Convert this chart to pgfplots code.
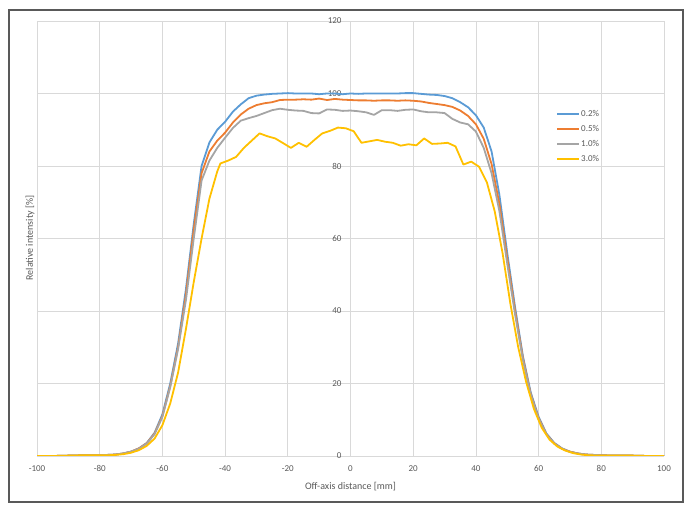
\documentclass[border=0pt]{standalone}
\usepackage{pgfplots}
\pgfplotsset{compat=1.18}
\usepackage{fontspec}
\setmainfont{Carlito}
\definecolor{cblue}{HTML}{5B9BD5}
\definecolor{corange}{HTML}{ED7D31}
\definecolor{cgray}{HTML}{A5A5A5}
\definecolor{cyellow}{HTML}{FFC000}
\definecolor{txt}{HTML}{595959}
\definecolor{gridc}{HTML}{D9D9D9}
\definecolor{framec}{HTML}{595959}
\begin{document}
\begin{tikzpicture}[x=1pt,y=1pt]
\path[use as bounding box] (0,0) rectangle (693,513);
\draw[framec, line width=1.6pt] (9,11) rectangle (683,503);
\begin{axis}[
  at={(37pt,57pt)}, anchor=south west,
  scale only axis, width=627pt, height=435pt,
  xmin=-100, xmax=100, ymin=0, ymax=120,
  xtick={-100,-80,...,100}, ytick={0,20,...,120},
  grid=major, major grid style={draw=gridc, line width=0.8pt},
  major tick length=0pt,
  axis line style={draw=none},
  tick label style={font=\fontsize{9}{10}\selectfont, text=txt},
  /pgf/number format/assume math mode=true,
  yticklabel style={xshift=308pt},
  xticklabel style={yshift=-6pt},
  xlabel={Off-axis distance [mm]},
  xlabel style={font=\fontsize{10}{12}\selectfont, text=txt, yshift=-4pt},
  legend style={draw=none, fill=none, at={(0.823,0.802)}, anchor=north west,
    font=\fontsize{9}{10}\selectfont, row sep=5.3pt,
    nodes={inner sep=1pt, text=txt}},
  legend cell align=left,
  legend image code/.code={\draw[#1, line width=2pt] (0pt,0pt) -- (22pt,0pt);},
]
\draw[color=black!30, line width=0.8pt] (axis cs:-100,0) -- (axis cs:100,0);
\addplot[cblue, line width=1.8pt, line join=round, mark=none] coordinates {
(-100,0) (-95,0) (-90,0.1) (-85,0.2) (-80,0.2) (-77.5,0.3) (-75,0.4) (-72.5,0.7) (-70,1.2) (-67.5,2.1) (-65,3.6) (-62.5,6.4) (-60,11.5) (-57.5,20) (-55,31) (-52.5,46) (-50,64) (-47.5,80) (-45,86.5) (-42.5,90) (-40,92.2) (-37.5,95) (-35,97) (-32.5,98.7) (-30,99.4) (-27.5,99.7) (-25,99.9) (-22.5,100) (-20,100.1) (-17.5,100) (-15,100) (-12.5,100) (-10,99.8) (-7.5,100) (-5,100) (-2.5,99.8) (0,100) (2.5,99.9) (5,100) (7.5,100) (10,100) (12.5,100) (15,100) (17.5,100.1) (20,100.1) (22.5,99.9) (25,99.7) (27.5,99.6) (30,99.3) (32.5,98.7) (35,97.6) (37.5,96.2) (40,94) (42.5,90.6) (45,84) (47.5,72) (50,56) (52.5,41) (55,27.5) (57.5,17.5) (60,10.8) (62.5,6.2) (65,3.6) (67.5,2.1) (70,1.2) (72.5,0.7) (75,0.4) (77.5,0.3) (80,0.2) (85,0.1) (90,0.1) (95,0) (100,0)
};
\addlegendentry{0.2\%}
\addplot[corange, line width=1.8pt, line join=round, mark=none] coordinates {
(-100,0) (-95,0) (-90,0.1) (-85,0.2) (-80,0.2) (-77.5,0.3) (-75,0.4) (-72.5,0.7) (-70,1.2) (-67.5,2.1) (-65,3.5) (-62.5,6.2) (-60,11) (-57.5,19.3) (-55,30) (-52.5,44.5) (-50,62.5) (-47.5,78) (-45,84) (-42.5,87) (-40,89.2) (-37.5,92) (-35,94.2) (-32.5,95.8) (-30,96.8) (-27.5,97.3) (-25,97.6) (-22.5,98.2) (-20,98.3) (-17.5,98.3) (-15,98.4) (-12.5,98.3) (-10,98.6) (-7.5,98.2) (-5,98.5) (-2.5,98.3) (0,98.2) (2.5,98.1) (5,98.1) (7.5,98.0) (10,98.1) (12.5,98.1) (15,98.0) (17.5,98.1) (20,98.0) (22.5,97.8) (25,97.4) (27.5,97.1) (30,96.8) (32.5,96.3) (35,95.3) (37.5,93.8) (40,91.5) (42.5,87.5) (45,80.5) (47.5,69.5) (50,54.5) (52.5,40) (55,27) (57.5,17) (60,10.5) (62.5,6) (65,3.5) (67.5,2) (70,1.2) (72.5,0.7) (75,0.4) (77.5,0.3) (80,0.2) (85,0.1) (90,0.1) (95,0) (100,0)
};
\addlegendentry{0.5\%}
\addplot[cgray, line width=1.8pt, line join=round, mark=none] coordinates {
(-100,0) (-95,0) (-90,0.1) (-85,0.2) (-80,0.2) (-77.5,0.3) (-75,0.4) (-72.5,0.7) (-70,1.2) (-67.5,2.0) (-65,3.4) (-62.5,6.0) (-60,10.8) (-57.5,19) (-55,29.5) (-52.5,43) (-50,60) (-47.5,76) (-45,81.5) (-42.5,85) (-40,87.8) (-37.5,90.5) (-35,92.5) (-32.5,93.2) (-30,93.8) (-27.5,94.6) (-25,95.4) (-22.5,95.8) (-20,95.5) (-17.5,95.3) (-15,95.2) (-12.5,94.6) (-10,94.5) (-7.5,95.6) (-5,95.5) (-2.5,95.2) (0,95.3) (2.5,95.1) (5,94.8) (7.5,94.1) (10,95.4) (12.5,95.4) (15,95.2) (17.5,95.5) (20,95.6) (22.5,95.1) (25,94.8) (27.5,94.8) (30,94.6) (32.5,93) (35,92) (37.5,91.5) (40,89.5) (42.5,85) (45,78) (47.5,67.5) (50,53) (52.5,39) (55,26.5) (57.5,16.8) (60,10.3) (62.5,5.9) (65,3.4) (67.5,2) (70,1.1) (72.5,0.7) (75,0.4) (77.5,0.3) (80,0.2) (85,0.1) (90,0.1) (95,0) (100,0)
};
\addlegendentry{1.0\%}
\addplot[cyellow, line width=1.8pt, line join=round, mark=none] coordinates {
(-100,0) (-95,0) (-90,0.1) (-85,0.2) (-80,0.2) (-77.5,0.2) (-75,0.3) (-72.5,0.5) (-70,0.9) (-67.5,1.6) (-65,2.8) (-62.5,4.8) (-60,8.5) (-57.5,14.5) (-55,23) (-52.5,35) (-50,48) (-47.5,60) (-45,71) (-42.5,78.5) (-41.5,80.7) (-39,81.5) (-36.5,82.5) (-34,85) (-31.5,87) (-29,89) (-26.5,88.2) (-24,87.6) (-21.5,86.3) (-19,85) (-16.5,86.4) (-14,85.3) (-11.5,87.2) (-9,89) (-6.5,89.7) (-4,90.6) (-1.5,90.4) (1,89.6) (3.5,86.4) (6,86.8) (8.5,87.2) (11,86.7) (13.5,86.4) (16,85.6) (18.5,86) (21,85.7) (23.5,87.6) (26,86.1) (28.5,86.2) (31,86.4) (33.5,85.4) (36,80.4) (38.5,81.2) (41,79.8) (43.5,75.5) (46,67.5) (48.5,56) (51,42) (53.5,30) (56,20.5) (58.5,13) (61,7.8) (63.5,4.5) (66,2.6) (68.5,1.5) (71,0.8) (73.5,0.4) (76,0.2) (80,0.1) (85,0.1) (90,0.1) (95,0) (100,0)
};
\addlegendentry{3.0\%}
\end{axis}
\node[rotate=90, font=\fontsize{10}{12}\selectfont, text=txt] at (30,275) {Relative intensity [\%]};
\end{tikzpicture}
\end{document}
